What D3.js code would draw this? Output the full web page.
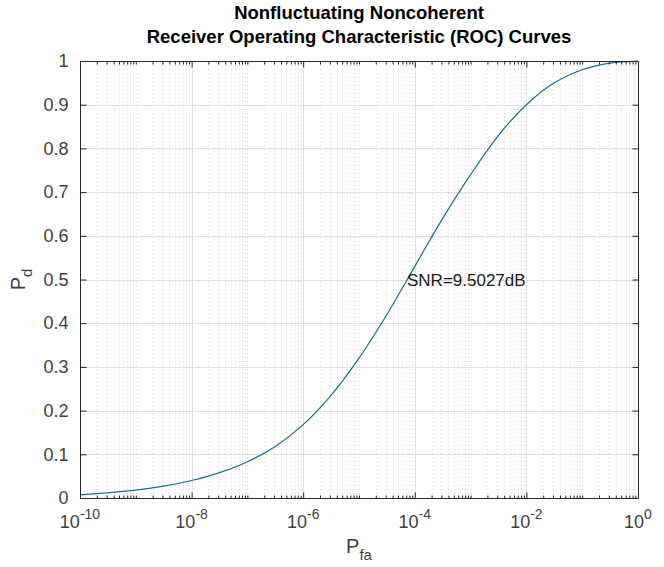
<!DOCTYPE html>
<html><head><meta charset="utf-8">
<script src="https://cdn.jsdelivr.net/npm/d3@7"></script>
<style>body{margin:0;background:#fff}svg{display:block}</style>
</head><body>
<script>
// Data
const logPfa = [-10,-9.5,-9,-8.5,-8,-7.5,-7,-6.5,-6,-5.5,-5,-4.5,-4,-3.5,-3,-2.5,-2,-1.5,-1,-0.5,0];
const pd     = [0.007,0.012,0.018,0.027,0.040,0.058,0.083,0.118,0.168,0.235,0.32,0.42,0.53,0.64,0.74,0.83,0.90,0.950,0.980,0.995,1.0];
const yTicks = [0,0.1,0.2,0.3,0.4,0.5,0.6,0.7,0.8,0.9,1];
const xTickExps = [-10,-8,-6,-4,-2,0];
const titleLines = ["Nonfluctuating Noncoherent","Receiver Operating Characteristic (ROC) Curves"];
const annotation = {text:"SNR=9.5027dB", x:Math.pow(10,-4.14), y:0.5};

const W=664,H=567, L=80,R=638,T=61,B=498;
const svg=d3.select("body").append("svg").attr("width",W).attr("height",H);
const x=d3.scaleLog().domain([1e-10,1]).range([L,R]);
const y=d3.scaleLinear().domain([0,1]).range([B,T]);
const font="'Liberation Sans', Arial, sans-serif";
const txt="#404040";

svg.append("rect").attr("x",L).attr("y",T).attr("width",R-L).attr("height",B-T).attr("fill","#fff");

// minor x grid (dotted)
const minor=[];
for(let e=-10;e<0;e++){for(let m=1;m<=9;m++){ if(m===1 && e%2===0) continue; minor.push(m*Math.pow(10,e)); } }
svg.append("g").selectAll("line").data(minor).join("line")
 .attr("x1",d=>Math.round(x(d))+0.5).attr("x2",d=>Math.round(x(d))+0.5).attr("y1",T).attr("y2",B)
 .attr("stroke","#d4d4d4").attr("stroke-width",1).attr("stroke-dasharray","1,3");
// major grid
svg.append("g").selectAll("line").data(xTickExps.map(e=>Math.pow(10,e))).join("line")
 .attr("x1",d=>Math.round(x(d))+0.5).attr("x2",d=>Math.round(x(d))+0.5).attr("y1",T).attr("y2",B)
 .attr("stroke","#e0e0e0").attr("stroke-width",1);
svg.append("g").selectAll("line").data(yTicks).join("line")
 .attr("x1",L).attr("x2",R).attr("y1",d=>Math.round(y(d))+0.5).attr("y2",d=>Math.round(y(d))+0.5)
 .attr("stroke","#e0e0e0").attr("stroke-width",1);

// curve
const pts=logPfa.map((e,i)=>[Math.pow(10,e),pd[i]]);
svg.append("path").datum(pts).attr("fill","none").attr("stroke","#1a6a8c").attr("stroke-width",1.2)
 .attr("d",d3.line().x(d=>x(d[0])).y(d=>y(d[1])).curve(d3.curveCatmullRom));

// axes box
svg.append("rect").attr("x",L+0.5).attr("y",T+0.5).attr("width",R-L).attr("height",B-T)
 .attr("fill","none").attr("stroke","#262626").attr("stroke-width",1);

// ticks via d3 axes (inward)
const yAx=d3.axisLeft(y).tickValues(yTicks).tickSize(-6).tickPadding(12).tickFormat(d=>d3.format("")(d));
const gy=svg.append("g").attr("transform",`translate(${L+0.5},0)`).call(yAx);
gy.select(".domain").remove();
gy.selectAll("text").attr("font-family",font).attr("font-size",18).attr("fill",txt);
gy.selectAll("line").attr("stroke","#262626");
const gyr=svg.append("g").attr("transform",`translate(${R+0.5},0)`).call(d3.axisRight(y).tickValues(yTicks).tickSize(-6).tickFormat(""));
gyr.select(".domain").remove(); gyr.selectAll("line").attr("stroke","#262626");

const majorX=xTickExps.map(e=>Math.pow(10,e));
const gx=svg.append("g").attr("transform",`translate(0,${B+0.5})`).call(d3.axisBottom(x).tickValues(majorX).tickSize(-6).tickFormat(""));
gx.select(".domain").remove(); gx.selectAll("line").attr("stroke","#262626");
const gxt=svg.append("g").attr("transform",`translate(0,${T+0.5})`).call(d3.axisTop(x).tickValues(majorX).tickSize(-6).tickFormat(""));
gxt.select(".domain").remove(); gxt.selectAll("line").attr("stroke","#262626");
// minor ticks
svg.append("g").attr("transform",`translate(0,${B+0.5})`).call(d3.axisBottom(x).tickValues(minor).tickSize(-3).tickFormat(""))
 .call(g=>{g.select(".domain").remove();g.selectAll("line").attr("stroke","#262626");});
svg.append("g").attr("transform",`translate(0,${T+0.5})`).call(d3.axisTop(x).tickValues(minor).tickSize(-3).tickFormat(""))
 .call(g=>{g.select(".domain").remove();g.selectAll("line").attr("stroke","#262626");});

// x tick labels with superscript
const xl=svg.append("g").selectAll("text").data(xTickExps).join("text")
 .attr("x",d=>x(Math.pow(10,d))).attr("y",B+30).attr("text-anchor","middle")
 .attr("font-family",font).attr("font-size",18).attr("fill",txt);
xl.append("tspan").text("10");
xl.append("tspan").attr("dy",-9).attr("font-size",14).text(d=>String(d));

// axis labels
const xlab=svg.append("text").attr("x",(L+R)/2).attr("y",553).attr("text-anchor","middle")
 .attr("font-family",font).attr("font-size",20).attr("fill",txt);
xlab.append("tspan").text("P");
xlab.append("tspan").attr("dy",7).attr("font-size",15).text("fa");
const ylab=svg.append("text").attr("transform",`translate(25,${(T+B)/2}) rotate(-90)`).attr("text-anchor","middle")
 .attr("font-family",font).attr("font-size",20).attr("fill",txt);
ylab.append("tspan").text("P");
ylab.append("tspan").attr("dy",7).attr("font-size",15).text("d");

// title
svg.append("g").selectAll("text").data(titleLines).join("text")
 .attr("x",(L+R)/2).attr("y",(d,i)=>19+i*24).attr("text-anchor","middle")
 .attr("font-family",font).attr("font-size",18.5).attr("font-weight","bold").attr("fill","#000").text(d=>d);

// annotation
svg.append("text").attr("x",x(annotation.x)).attr("y",y(annotation.y)+6)
 .attr("font-family",font).attr("font-size",17).attr("fill","#1a1a1a").text(annotation.text);
</script>
</body></html>
